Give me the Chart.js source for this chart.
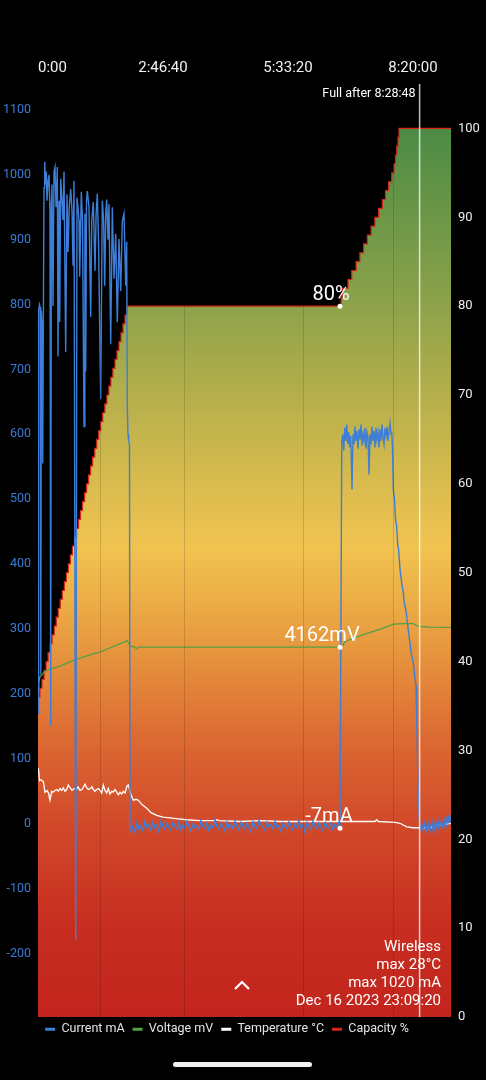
<!DOCTYPE html>
<html>
<head>
<meta charset="utf-8">
<script src="https://cdn.jsdelivr.net/npm/chart.js@4.4.0/dist/chart.umd.min.js"></script>
<style>
  html, body { margin: 0; padding: 0; background: #000; }
  #wrap { position: relative; width: 486px; height: 1080px; }
  #homeBar { position: absolute; left: 173px; top: 1062px; width: 139px; height: 5px; border-radius: 3px; background: #f2f2f2; }
</style>
</head>
<body>
<div id="wrap">
  <canvas id="batteryChart" width="486" height="1080"></canvas>
  <div id="homeBar"></div>
</div>
<script>
// time in seconds since start of session
const xTickSec = [0, 10000, 20000, 30000, 33040];
const xTickLabels = ['0:00', '2:46:40', '5:33:20', '8:20:00', ''];
const currentTicks = [-200, -100, 0, 100, 200, 300, 400, 500, 600, 700, 800, 900, 1000, 1100];
const capacityTicks = [0, 10, 20, 30, 40, 50, 60, 70, 80, 90, 100];

// [seconds, mA]
const currentPoints = [
    [0,170],[50,790],[120,800],[185,795],[225,230],[265,790],[320,770],[375,555],[425,760],[480,980],
    [535,1020],[600,985],[665,1005],[720,960],[800,990],[880,1000],[960,940],[1015,151],[1065,950],[1120,985],
    [1200,798],[1280,1005],[1360,1012],[1440,950],[1545,1012],[1600,720],[1680,960],[1735,773],[1815,994],[1920,960],
    [2000,930],[2080,1005],[2215,727],[2320,970],[2400,881],[2500,950],[2615,978],[2720,945],[2800,860],[2880,991],
    [3015,-179],[3120,965],[3200,950],[3280,930],[3335,843],[3465,974],[3560,930],[3680,612],[3750,940],[3815,697],
    [3880,960],[3945,975],[4080,950],[4215,781],[4300,930],[4424,958],[4560,852],[4650,940],[4745,971],[4840,900],
    [5015,654],[5145,960],[5250,930],[5335,829],[5420,940],[5495,962],[5600,900],[5680,955],[5815,739],[5945,950],
    [6080,840],[6215,909],[6345,773],[6480,901],[6615,821],[6745,929],[6880,940],[7015,829],[7095,897],[7145,640],
    [7200,600],[7255,590],[7320,585],[7360,-10],
    [7440,-12],[7600,-4],[7760,-14],[7920,2],[8080,-9],[8240,-3],[8400,-11],[8560,4],[8720,-6],[8880,-1],
    [9040,-10],[9200,3],[9360,-7],[9520,-2],[9680,-13],[9840,5],[10000,-5],[10160,-9],[10320,1],[10480,-6],
    [10640,-11],[10800,2],[10960,-4],[11120,-8],[11280,3],[11440,-10],[11600,-2],[11760,-7],[11920,4],[12080,-5],
    [12240,-12],[12400,0],[12560,-6],[12720,-3],[12880,-9],[13040,5],[13200,-4],[13360,-8],[13520,1],[13680,-11],
    [13840,-2],[14000,-6],[14160,6],[14320,-5],[14480,-9],[14640,0],[14800,-4],[14960,-12],[15120,3],[15280,-7],
    [15440,-1],[15600,-8],[15760,4],[15920,-5],[16080,-10],[16240,2],[16400,-3],[16560,-9],[16720,1],[16880,-6],
    [17040,-13],[17200,3],[17360,-4],[17520,-8],[17680,5],[17840,-2],[18000,-7],[18160,-11],[18320,2],[18480,-5],
    [18640,-1],[18800,-9],[18960,4],[19120,-6],[19280,-3],[19440,-12],[19600,1],[19760,-5],[19920,-8],[20080,3],
    [20240,-4],[20400,-10],[20560,0],[20720,-6],[20880,5],[21040,-7],[21200,-2],[21360,-14],[21520,2],[21680,-5],
    [21840,-9],[22000,4],[22160,-3],[22320,-8],[22480,1],[22640,-6],[22800,-11],[22960,3],[23120,-4],[23280,-7],
    [23440,2],[23600,-9],[23760,-1],[23920,-5],[24080,3],[24160,-7],
    [24300,588],[24380,600],[24460,575],[24540,610],[24620,590],[24700,615],[24780,585],[24860,603],[24940,580],[25020,598],
    [25120,515],[25200,600],[25280,585],[25360,612],[25440,590],[25520,605],[25600,578],[25680,608],[25760,592],[25840,615],
    [25920,583],[26000,600],[26080,590],[26160,610],[26240,578],[26320,603],[26400,595],[26480,538],[26560,600],[26640,585],
    [26720,612],[26800,590],[26880,605],[26960,580],[27040,610],[27120,592],[27200,603],[27280,580],[27360,608],[27440,590],
    [27520,615],[27600,595],[27680,585],[27760,610],[27840,598],[27920,612],[28000,590],[28080,605],[28160,617],[28240,600],
    [28300,603],[28360,580],[28425,515],[28520,500],[28600,470],[28695,458],[28780,430],[28860,420],[28960,392],[29040,380],
    [29120,368],[29225,356],[29300,340],[29400,332],[29495,320],[29580,305],[29680,290],[29760,279],[29860,262],[29940,255],
    [30025,248],[30120,230],[30240,212],[30300,160],[30345,109],[30420,50],[30505,6],
    [30560,-5],[30640,-10],[30720,-3],[30800,-9],[30880,2],[30960,-6],[31040,-12],[31120,-3],[31200,-8],[31280,1],
    [31360,-10],[31440,-4],[31520,3],[31600,-8],[31680,-2],[31760,-11],[31840,0],[31920,-5],[32000,5],[32080,-7],
    [32160,-2],[32240,3],[32320,-6],[32400,0],[32480,-4],[32560,6],[32640,-2],[32720,8],[32800,2],[32880,11],
    [32960,4],[33040,12]
];

// [seconds, mV]
const voltagePoints = [
    [0,3680],[55,3760],[160,3830],[320,3850],[480,3880],[800,3905],[1280,3930],[1760,3950],[2345,3986],[2960,4020],
    [3680,4054],[4320,4085],[5015,4110],[5680,4150],[6345,4189],[6800,4215],[7145,4234],[7360,4178],[7680,4165],[7895,4144],
    [8025,4162],[12960,4162],[19360,4162],[24160,4162],[24400,4180],[24560,4226],[26025,4302],[27625,4377],[28425,4422],[29360,4428],
    [30025,4426],[30425,4395],[31360,4388],[33040,4384]
];

// [seconds, °C]
const temperaturePoints = [
    [0,28.0],[40,27.8],[120,26.6],[240,26.7],[425,26.5],[560,25.3],[720,25.5],[840,25.2],[960,24.4],[1095,25.4],
    [1200,25.3],[1360,25.5],[1495,25.6],[1625,25.4],[1760,25.7],[1895,25.5],[2025,25.8],[2160,25.4],[2295,25.6],[2425,26.1],
    [2560,25.8],[2720,25.5],[2880,25.7],[3040,25.6],[3200,25.9],[3360,25.5],[3520,25.6],[3760,26.2],[3895,25.8],[4025,25.6],
    [4160,25.7],[4320,25.9],[4425,25.6],[4560,25.4],[4695,25.6],[4825,25.7],[4960,25.5],[5095,25.2],[5225,26.1],[5360,25.5],
    [5495,25.2],[5625,25.7],[5760,25.1],[5895,25.4],[6025,25.3],[6160,25.6],[6295,25.3],[6425,25.0],[6560,25.3],[6695,25.1],
    [6825,25.4],[6960,25.2],[7120,26.0],[7225,26.1],[7440,25.0],[7625,24.4],[7840,24.5],[8025,24.4],[8320,23.9],[8695,23.5],
    [9040,23.0],[9495,22.7],[10000,22.5],[10560,22.4],[11200,22.3],[11895,22.2],[12960,22.1],[14160,22.1],[14320,22.2],[14480,22.1],
    [16160,22.0],[17760,22.1],[19360,22.0],[20960,22.0],[22560,22.0],[24160,22.0],[25760,22.0],[26960,22.0],[27095,22.2],[27230,22.0],
    [28560,21.9],[28960,21.8],[29495,21.4],[30000,21.3],[30800,21.3],[31360,21.3],[32160,21.6],[33040,21.8]
];

// [seconds, %] - value reached at that time
const capacityPoints = [
    [0,36],[160,37],[320,38],[490,39],[650,40],[810,41],[970,42],[1130,43],[1300,44],[1460,45],
    [1620,46],[1780,47],[1940,48],[2110,49],[2270,50],[2430,51],[2590,52],[2750,53],[2920,54],[3080,55],
    [3240,56],[3400,57],[3560,58],[3730,59],[3890,60],[4050,61],[4210,62],[4370,63],[4540,64],[4700,65],
    [4860,66],[5020,67],[5180,68],[5350,69],[5510,70],[5670,71],[5830,72],[5990,73],[6160,74],[6320,75],
    [6480,76],[6640,77],[6800,78],[6960,79],[7120,80],
    [24250,81],[24350,82],[24800,83],[25100,84],[25450,85],[25750,86],[26050,87],[26350,88],[26650,89],[26950,90],
    [27250,91],[27550,92],[27800,93],[28050,94],[28300,95],[28480,96],[28600,97],[28700,98],[28800,99],[28880,100],
    [33040,100]
];

const gridSec = [4936, 11680, 21224, 28376];
const fullAfterSec = 30528;
const fullAfterLabel = '8:28:48';
const crossSec = 24160;
const crossCapacity = 80;
const crossVoltage = 4162;
const crossCurrent = -7;
const infoLines = ['Wireless', 'max 28°C', 'max 1020 mA', 'Dec 16 2023 23:09:20'];

Chart.defaults.font.family = 'Roboto';
Chart.defaults.color = '#e8e8e8';

function toXY(points) {
    return points.map(p => ({ x: p[0], y: p[1] }));
}

function capacityFill(context) {
    const chart = context.chart;
    if (!chart.chartArea) return 'rgba(0,0,0,0)';
    const s = chart.scales.y1;
    const g = chart.ctx.createLinearGradient(0, s.getPixelForValue(0), 0, s.getPixelForValue(100));
    g.addColorStop(0, '#c2251d');
    g.addColorStop(0.1, '#c62d20');
    g.addColorStop(0.22, '#d24a2a');
    g.addColorStop(0.32, '#dd6c33');
    g.addColorStop(0.4, '#e5903c');
    g.addColorStop(0.47, '#ecae46');
    g.addColorStop(0.53, '#f1c350');
    g.addColorStop(0.62, '#d2b94d');
    g.addColorStop(0.72, '#adac4b');
    g.addColorStop(0.81, '#8aa14a');
    g.addColorStop(1, '#4c8b45');
    return g;
}

const overlayPlugin = {
    id: 'overlay',
    afterLayout(chart) {
        // legend sits a little higher and left of where Chart.js puts it
        const lg = chart.legend;
        lg.top -= 2;
        lg.bottom -= 2;
        lg.left -= 16;
        lg.right -= 16;
    },
    afterDatasetsDraw(chart) {
        const { ctx, chartArea: a, scales } = chart;
        const xs = scales.x;
        ctx.save();

        ctx.strokeStyle = 'rgba(0,0,0,0.14)';
        ctx.lineWidth = 1;
        gridSec.forEach(t => {
            const px = Math.round(xs.getPixelForValue(t)) + 0.5;
            ctx.beginPath();
            ctx.moveTo(px, a.top);
            ctx.lineTo(px, a.bottom);
            ctx.stroke();
        });

        // full charge marker
        const fx = xs.getPixelForValue(fullAfterSec);
        ctx.strokeStyle = 'rgba(255,255,255,0.75)';
        ctx.lineWidth = 1.5;
        ctx.beginPath();
        ctx.moveTo(fx, a.top);
        ctx.lineTo(fx, a.bottom);
        ctx.stroke();
        ctx.fillStyle = '#fff';
        ctx.font = '12.5px Roboto';
        ctx.textAlign = 'right';
        ctx.textBaseline = 'middle';
        ctx.fillText('Full after ' + fullAfterLabel, fx - 4, a.top + 10);

        // highlighted values
        const cx = xs.getPixelForValue(crossSec);
        const marks = [
            { py: scales.y1.getPixelForValue(crossCapacity), text: crossCapacity + '%', dx: -9 },
            { py: scales.yV.getPixelForValue(crossVoltage), text: crossVoltage + 'mV', dx: -18 },
            { py: scales.y.getPixelForValue(crossCurrent), text: crossCurrent + 'mA', dx: -11 }
        ];
        ctx.font = '20px Roboto';
        ctx.textAlign = 'center';
        ctx.textBaseline = 'alphabetic';
        marks.forEach(m => {
            ctx.beginPath();
            ctx.arc(cx, m.py, 2.5, 0, Math.PI * 2);
            ctx.fill();
            ctx.fillText(m.text, cx + m.dx, m.py - 6);
        });

        // info block bottom right
        ctx.font = '15px Roboto';
        ctx.textAlign = 'right';
        ctx.textBaseline = 'middle';
        infoLines.forEach((s, i) => {
            ctx.fillText(s, a.right - 10, a.bottom - 15.5 - (infoLines.length - 1 - i) * 18);
        });

        // expand chevron
        const mx = (a.left + a.right) / 2 - 2.5;
        const my = a.bottom - 32;
        ctx.strokeStyle = '#fff';
        ctx.lineWidth = 2.2;
        ctx.beginPath();
        ctx.moveTo(mx - 7, my + 4);
        ctx.lineTo(mx, my - 3);
        ctx.lineTo(mx + 7, my + 4);
        ctx.stroke();

        ctx.restore();
    }
};

const ctx = document.getElementById('batteryChart').getContext('2d');
new Chart(ctx, {
    type: 'line',
    data: {
        datasets: [
            {
                label: 'Current mA',
                data: toXY(currentPoints),
                yAxisID: 'y',
                borderColor: '#3d7ed8',
                backgroundColor: '#3d7ed8',
                borderWidth: 1.4,
                pointRadius: 0,
                fill: false
            },
            {
                label: 'Voltage mV',
                data: toXY(voltagePoints),
                yAxisID: 'yV',
                borderColor: '#54a045',
                backgroundColor: '#54a045',
                borderWidth: 1.3,
                pointRadius: 0,
                fill: false
            },
            {
                label: 'Temperature °C',
                data: toXY(temperaturePoints),
                yAxisID: 'y1',
                borderColor: '#ffffff',
                backgroundColor: '#ffffff',
                borderWidth: 1.3,
                pointRadius: 0,
                fill: false
            },
            {
                label: 'Capacity %',
                data: toXY(capacityPoints),
                yAxisID: 'y1',
                borderColor: '#d8261c',
                backgroundColor: capacityFill,
                borderWidth: 1.2,
                pointRadius: 0,
                stepped: true,
                fill: 'start'
            }
        ]
    },
    options: {
        responsive: false,
        animation: false,
        events: [],
        layout: { padding: { top: 0, left: 0, right: 0, bottom: 32.5 } },
        plugins: {
            tooltip: { enabled: false },
            legend: {
                position: 'bottom',
                labels: {
                    boxWidth: 10,
                    boxHeight: 3,
                    padding: 8,
                    color: '#e4e4e4',
                    font: { size: 12.5 },
                    generateLabels: chart => Chart.defaults.plugins.legend.labels.generateLabels(chart)
                        .map(l => ({ ...l, fillStyle: l.strokeStyle, lineWidth: 0 }))
                }
            }
        },
        scales: {
            x: {
                type: 'linear',
                position: 'top',
                min: 0,
                max: 33040,
                grid: { display: false, drawTicks: false },
                border: { display: false },
                afterBuildTicks: s => { s.ticks = xTickSec.map(v => ({ value: v })); },
                afterFit: s => { s.height = 84; },
                ticks: {
                    autoSkip: false,
                    maxRotation: 0,
                    align: 'inner',
                    padding: 7,
                    color: '#f2f2f2',
                    font: { size: 15 },
                    callback: (v, i) => xTickLabels[i]
                }
            },
            y: {
                position: 'left',
                min: -298,
                max: 1140,
                grid: { display: false, drawTicks: false },
                border: { display: false },
                afterBuildTicks: s => { s.ticks = currentTicks.map(v => ({ value: v })); },
                afterFit: s => { s.width = 38; },
                ticks: { color: '#3b7bd4', padding: 7, font: { size: 12.5 }, callback: v => String(v) }
            },
            y1: {
                position: 'right',
                min: 0,
                max: 105,
                grid: { display: false, drawTicks: false },
                border: { display: false },
                afterBuildTicks: s => { s.ticks = capacityTicks.map(v => ({ value: v })); },
                afterFit: s => { s.width = 35; },
                ticks: { color: '#ececec', padding: 7, font: { size: 13 }, callback: v => String(v) }
            },
            yV: {
                display: false,
                min: 0,
                max: 10500
            }
        }
    },
    plugins: [overlayPlugin]
});
</script>
</body>
</html>
